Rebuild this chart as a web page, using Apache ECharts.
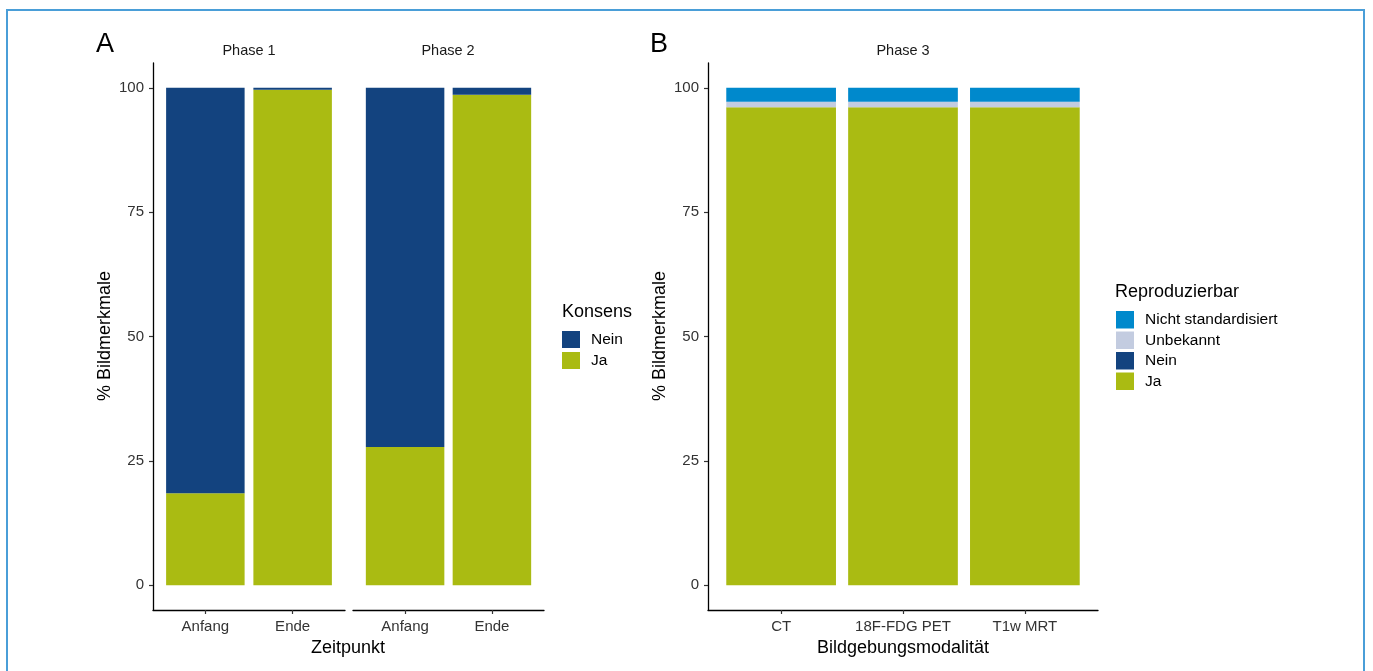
<!DOCTYPE html>
<html>
<head>
<meta charset="utf-8">
<script src="https://cdn.jsdelivr.net/npm/echarts@6/dist/echarts.min.js"></script>
<style>
html,body{margin:0;padding:0;background:#fff;overflow:hidden;}
#frame{position:absolute;left:6px;top:9px;width:1359px;height:700px;border:2px solid #4a9ed8;box-sizing:border-box;}
#chart{position:absolute;left:0;top:0;width:1373px;height:671px;}
</style>
</head>
<body>
<div id="frame"></div>
<div id="chart"></div>
<script>
// ---- data ----
const categoriesA = ['Anfang', 'Ende'];
const phase1Ja = [18.5, 99.6];
const phase1Nein = [81.5, 0.4];
const phase2Ja = [27.8, 98.6];
const phase2Nein = [72.2, 1.4];

const categoriesB = ['CT', '18F-FDG PET', 'T1w MRT'];
const phase3Ja = [96.1, 96.1, 96.1];
const phase3Nein = [0, 0, 0];
const phase3Unbekannt = [1.1, 1.1, 1.1];
const phase3NichtStd = [2.8, 2.8, 2.8];

const yTicks = [0, 25, 50, 75, 100];
const facetTitles = ['Phase 1', 'Phase 2', 'Phase 3'];

// ---- style ----
const FONT = 'Liberation Sans, Arial, sans-serif';
const C = {
  'Nein': '#13437f',
  'Ja': '#aabb12',
  'Unbekannt': '#c3cce0',
  'Nicht standardisiert': '#0089cc'
};

const chart = echarts.init(document.getElementById('chart'));

// rows: [value, categoryPosition] so the first (stacked) dimension is the y value
function toRows(arr) { return arr.map((v, i) => [v, i + 1]); }

function xAxisFor(gridIndex, cats) {
  const n = cats.length;
  const pos = cats.map((c, i) => i + 1);
  return {
    type: 'value', gridIndex: gridIndex, min: 0.4, max: n + 0.6,
    axisLine: {show: true, onZero: false, lineStyle: {color: '#000', width: 1.3}},
    axisTick: {show: true, length: 4, customValues: pos, lineStyle: {color: '#333', width: 1.2}},
    axisLabel: {show: true, customValues: pos, formatter: v => cats[Math.round(v) - 1] || '',
      color: '#333', fontSize: 15, fontFamily: FONT, margin: 9},
    splitLine: {show: false}
  };
}
function yAxisFor(gridIndex, show) {
  return {
    type: 'value', gridIndex: gridIndex, min: -5, max: 105, show: show,
    axisLine: {show: true, onZero: false, lineStyle: {color: '#000', width: 1.3}},
    axisTick: {show: true, length: 4, customValues: yTicks, lineStyle: {color: '#333', width: 1.2}},
    axisLabel: {show: true, customValues: yTicks, color: '#333', fontSize: 15, fontFamily: FONT, margin: 9},
    splitLine: {show: false}
  };
}
function bar(name, arr, idx, stack, w) {
  return {
    type: 'bar', name: name, data: toRows(arr), encode: {x: 1, y: 0},
    xAxisIndex: idx, yAxisIndex: idx,
    stack: stack, barWidth: w, itemStyle: {color: C[name]}, emphasis: {disabled: true}
  };
}

const option = {
  animation: false,
  textStyle: {fontFamily: FONT},
  grid: [
    {left: 153, top: 63, width: 192, height: 547},
    {left: 353, top: 63, width: 191, height: 547},
    {left: 708, top: 63, width: 390, height: 547}
  ],
  xAxis: [xAxisFor(0, categoriesA), xAxisFor(1, categoriesA), xAxisFor(2, categoriesB)],
  yAxis: [yAxisFor(0, true), yAxisFor(1, false), yAxisFor(2, true)],
  legend: [
    {
      orient: 'vertical', left: 562, top: 331, padding: 0,
      itemWidth: 18, itemHeight: 17, itemGap: 4, icon: 'rect',
      data: ['Nein', 'Ja'],
      textStyle: {fontSize: 15.5, color: '#000', fontFamily: FONT, padding: [0, 0, 0, 6], lineHeight: 17},
      selectedMode: false
    },
    {
      orient: 'vertical', left: 1116, top: 311, padding: 0,
      itemWidth: 18, itemHeight: 17.5, itemGap: 3,
      icon: 'rect',
      data: ['Nicht standardisiert', 'Unbekannt', 'Nein', 'Ja'],
      textStyle: {fontSize: 15.5, color: '#000', fontFamily: FONT, padding: [0, 0, 0, 6], lineHeight: 17.5},
      selectedMode: false
    }
  ],
  graphic: [
    {type: 'text', left: 96, top: 31, style: {text: 'A', font: '27px ' + FONT, fill: '#000'}},
    {type: 'text', left: 650, top: 31, style: {text: 'B', font: '27px ' + FONT, fill: '#000'}},
    {type: 'text', x: 249, y: 51, style: {text: facetTitles[0], font: '14.5px ' + FONT, fill: '#1a1a1a', align: 'center', verticalAlign: 'middle'}},
    {type: 'text', x: 448, y: 51, style: {text: facetTitles[1], font: '14.5px ' + FONT, fill: '#1a1a1a', align: 'center', verticalAlign: 'middle'}},
    {type: 'text', x: 903, y: 51, style: {text: facetTitles[2], font: '14.5px ' + FONT, fill: '#1a1a1a', align: 'center', verticalAlign: 'middle'}},
    {type: 'text', x: 105, y: 336, rotation: Math.PI / 2, style: {text: '% Bildmerkmale', font: '18px ' + FONT, fill: '#000', align: 'center', verticalAlign: 'middle'}},
    {type: 'text', x: 660, y: 336, rotation: Math.PI / 2, style: {text: '% Bildmerkmale', font: '18px ' + FONT, fill: '#000', align: 'center', verticalAlign: 'middle'}},
    {type: 'text', x: 348, y: 648, style: {text: 'Zeitpunkt', font: '18px ' + FONT, fill: '#000', align: 'center', verticalAlign: 'middle'}},
    {type: 'text', x: 903, y: 648, style: {text: 'Bildgebungsmodalität', font: '18px ' + FONT, fill: '#000', align: 'center', verticalAlign: 'middle'}},
    {type: 'text', left: 562, top: 303, style: {text: 'Konsens', font: '18px ' + FONT, fill: '#000'}},
    {type: 'text', left: 1115, top: 283, style: {text: 'Reproduzierbar', font: '18px ' + FONT, fill: '#000'}}
  ],
  series: [
    bar('Ja', phase1Ja, 0, 'p1', 78.5),
    bar('Nein', phase1Nein, 0, 'p1', 78.5),
    bar('Ja', phase2Ja, 1, 'p2', 78.5),
    bar('Nein', phase2Nein, 1, 'p2', 78.5),
    bar('Ja', phase3Ja, 2, 'p3', 109.7),
    bar('Nein', phase3Nein, 2, 'p3', 109.7),
    bar('Unbekannt', phase3Unbekannt, 2, 'p3', 109.7),
    bar('Nicht standardisiert', phase3NichtStd, 2, 'p3', 109.7)
  ]
};
chart.setOption(option);
</script>
</body>
</html>
